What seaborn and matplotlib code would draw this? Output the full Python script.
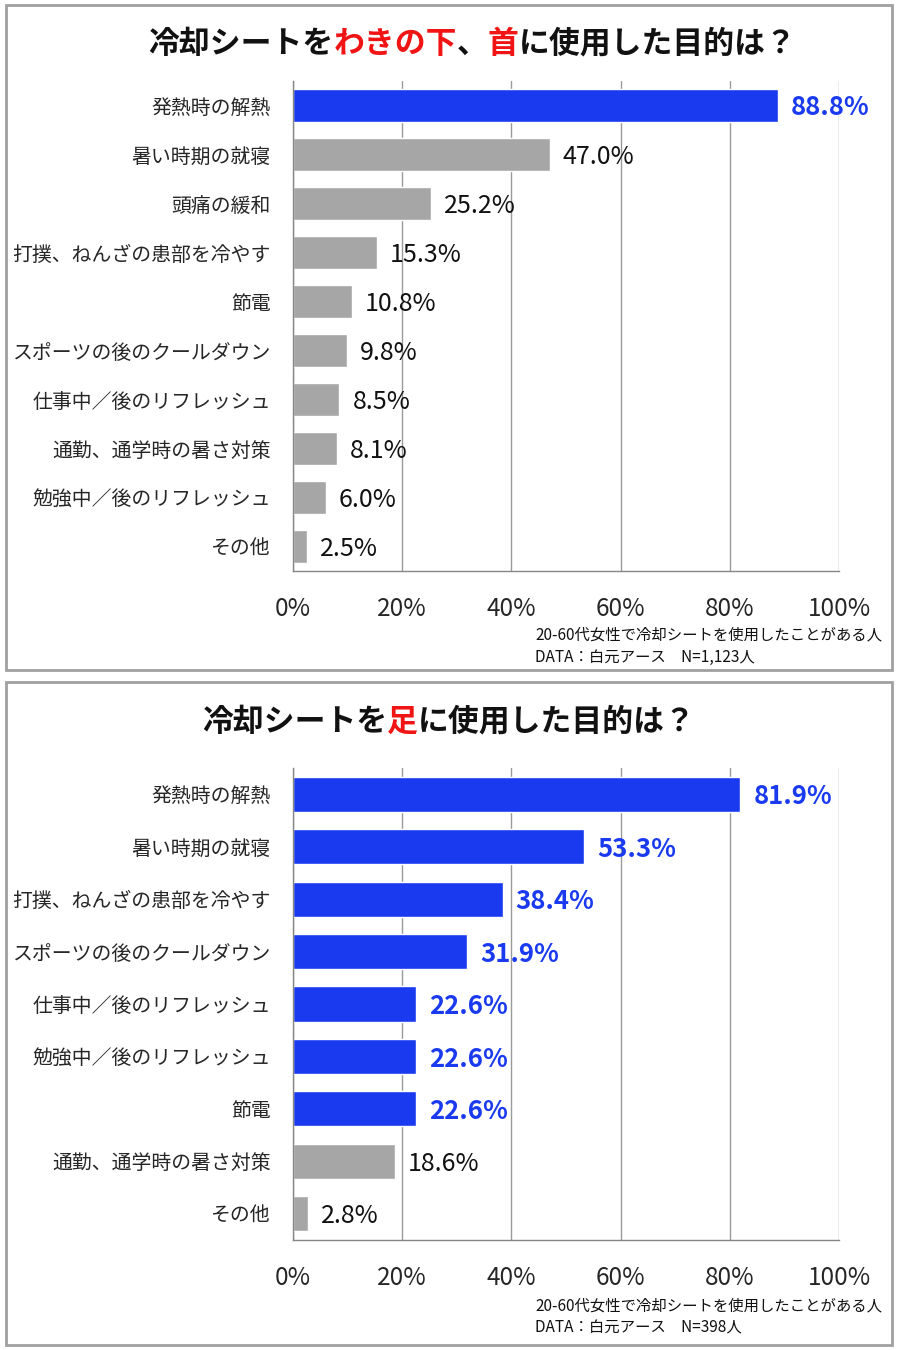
import matplotlib
matplotlib.use("Agg")
import matplotlib.pyplot as plt
import seaborn as sns
import pandas as pd
import numpy as np
from matplotlib.patches import Rectangle

# Data
cats_top = ["発熱時の解熱", "暑い時期の就寝", "頭痛の緩和", "打撲、ねんざの患部を冷やす", "節電",
            "スポーツの後のクールダウン", "仕事中／後のリフレッシュ", "通勤、通学時の暑さ対策",
            "勉強中／後のリフレッシュ", "その他"]
vals_top = [88.8, 47.0, 25.2, 15.3, 10.8, 9.8, 8.5, 8.1, 6.0, 2.5]
hi_top = [True, False, False, False, False, False, False, False, False, False]

cats_bot = ["発熱時の解熱", "暑い時期の就寝", "打撲、ねんざの患部を冷やす", "スポーツの後のクールダウン",
            "仕事中／後のリフレッシュ", "勉強中／後のリフレッシュ", "節電", "通勤、通学時の暑さ対策", "その他"]
vals_bot = [81.9, 53.3, 38.4, 31.9, 22.6, 22.6, 22.6, 18.6, 2.8]
hi_bot = [True, True, True, True, True, True, True, False, False]

xticks = [0, 20, 40, 60, 80, 100]

title_top = [("冷却シートを", "black"), ("わきの下", "red"), ("、", "black"), ("首", "red"),
             ("に使用した目的は？", "black")]
title_bot = [("冷却シートを", "black"), ("足", "red"), ("に使用した目的は？", "black")]
note_top = ["20-60代女性で冷却シートを使用したことがある人", "DATA：白元アース　N=1,123人"]
note_bot = ["20-60代女性で冷却シートを使用したことがある人", "DATA：白元アース　N=398人"]

BLUE = "#1a3af0"
GREY = "#a6a6a6"
RED = "#f01414"
FONT = ["Noto Sans CJK JP", "DejaVu Sans"]

sns.set_style("white")
plt.rcParams["font.family"] = FONT

fig = plt.figure(figsize=(8.98, 13.5), dpi=100)

# panel frames
for y0, h in [(0.5037, 0.4926), (0.0037, 0.4911)]:
    fig.patches.append(Rectangle((0.0067, y0), 0.9866, h, transform=fig.transFigure,
                                 fill=False, edgecolor="#a0a0a0", linewidth=2))


def draw_panel(ax, cats, vals, hi):
    df = pd.DataFrame({"cat": cats, "val": vals,
                       "hi": ["y" if h else "n" for h in hi]})
    sns.barplot(data=df, y="cat", x="val", hue="hi", palette={"y": BLUE, "n": GREY},
                dodge=False, legend=False, width=0.67, ax=ax, saturation=1)
    n = len(cats)
    ax.set_xlim(0, 100)
    ax.set_ylim(n - 0.5, -0.5)
    ax.set_xticks(xticks)
    ax.set_xticklabels([f"{t}%" for t in xticks], fontsize=17.5)
    ax.set_yticks(range(n))
    ax.set_yticklabels(cats, fontsize=14.3)
    ax.set_yticks(np.arange(-0.5, n, 1), minor=True)
    ax.tick_params(axis="y", which="major", length=0, pad=16)
    ax.tick_params(axis="y", which="minor", length=6, color="#868686", width=1)
    ax.tick_params(axis="x", length=6, color="#868686", pad=12)
    ax.set_xlabel("")
    ax.set_ylabel("")
    ax.grid(axis="x", color="#9a9a9a", linewidth=1)
    ax.set_axisbelow(True)
    for s in ["top", "right"]:
        ax.spines[s].set_visible(False)
    for s in ["left", "bottom"]:
        ax.spines[s].set_color("#868686")
        ax.spines[s].set_linewidth(1)
    for i, (v, h) in enumerate(zip(vals, hi)):
        if h:
            ax.text(v + 2.4, i + 0.05, f"{v:.1f}%", va="center", ha="left", fontsize=18.5,
                    color=BLUE, fontweight="bold")
        else:
            ax.text(v + 2.4, i + 0.05, f"{v:.1f}%", va="center", ha="left", fontsize=18,
                    color="#111111")


def draw_title(parts, xc, y):
    renderer = fig.canvas.get_renderer()
    texts = []
    widths = []
    for s, c in parts:
        t = fig.text(0, y, s, fontsize=22.2, fontweight="bold", va="center", ha="left",
                     color=RED if c == "red" else "#111111")
        texts.append(t)
        widths.append(t.get_window_extent(renderer).width / fig.bbox.width)
    x = xc - sum(widths) / 2
    for t, w in zip(texts, widths):
        t.set_x(x)
        x += w


ax1 = fig.add_axes([0.3263, 0.577, 0.608, 0.363])
draw_panel(ax1, cats_top, vals_top, hi_top)
ax2 = fig.add_axes([0.3263, 0.0815, 0.608, 0.3496])
draw_panel(ax2, cats_bot, vals_bot, hi_bot)

draw_title(title_top, 0.526, 0.9675)
draw_title(title_bot, 0.500, 0.4655)

for lines, ys in [(note_top, [0.5296, 0.5133]), (note_bot, [0.0326, 0.0163])]:
    for s, yy in zip(lines, ys):
        fig.text(0.5958, yy, s, fontsize=11.1, va="center", ha="left", color="#111111")

fig.savefig("out.png", dpi=100)
